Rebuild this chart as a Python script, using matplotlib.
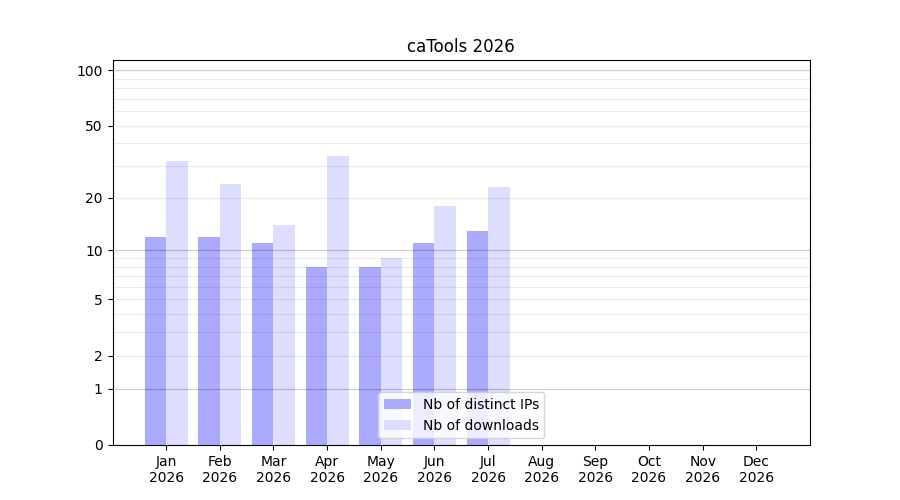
import numpy as np
import matplotlib
matplotlib.use("Agg")
import matplotlib.pyplot as plt

months = ["Jan", "Feb", "Mar", "Apr", "May", "Jun", "Jul", "Aug", "Sep", "Oct", "Nov", "Dec"]
year = "2026"
ips = [12, 12, 11, 8, 8, 11, 13]
downloads = [32, 24, 14, 34, 9, 18, 23]
ytick_values = [0, 1, 2, 5, 10, 20, 50, 100]
major_grid = [1, 10, 100]
minor_grid = [2, 3, 4, 5, 6, 7, 8, 9, 20, 30, 40, 50, 60, 70, 80, 90]

fig, ax = plt.subplots(figsize=(9, 5), dpi=100)
ax.set_yscale("function", functions=(lambda v: np.log10(1 + np.clip(v, 0, None)),
                                     lambda v: 10 ** v - 1))

x = np.arange(len(months))
n = len(ips)
w = 0.4
ax.bar(x[:n] - w / 2, ips, width=w, color="#aaaaff", label="Nb of distinct IPs", zorder=1)
ax.bar(x[:n] + w / 2, downloads, width=w, color="#ddddff", label="Nb of downloads", zorder=1)

for g in minor_grid:
    ax.axhline(g, color="black", alpha=0.08, linewidth=0.8, zorder=2)
for g in major_grid:
    ax.axhline(g, color="black", alpha=0.2, linewidth=0.9, zorder=2)

ax.set_yticks(ytick_values)
ax.set_yticklabels([str(v) for v in ytick_values])
ax.yaxis.set_minor_locator(matplotlib.ticker.NullLocator())
ax.set_ylim(0, 113.5)
ax.set_xlim(-1, 12)
ax.set_xticks(x)
ax.set_xticklabels([f"{m}\n{year}" for m in months])
ax.set_title("caTools 2026")
ax.legend(loc="lower center")

fig.savefig("out.png")
